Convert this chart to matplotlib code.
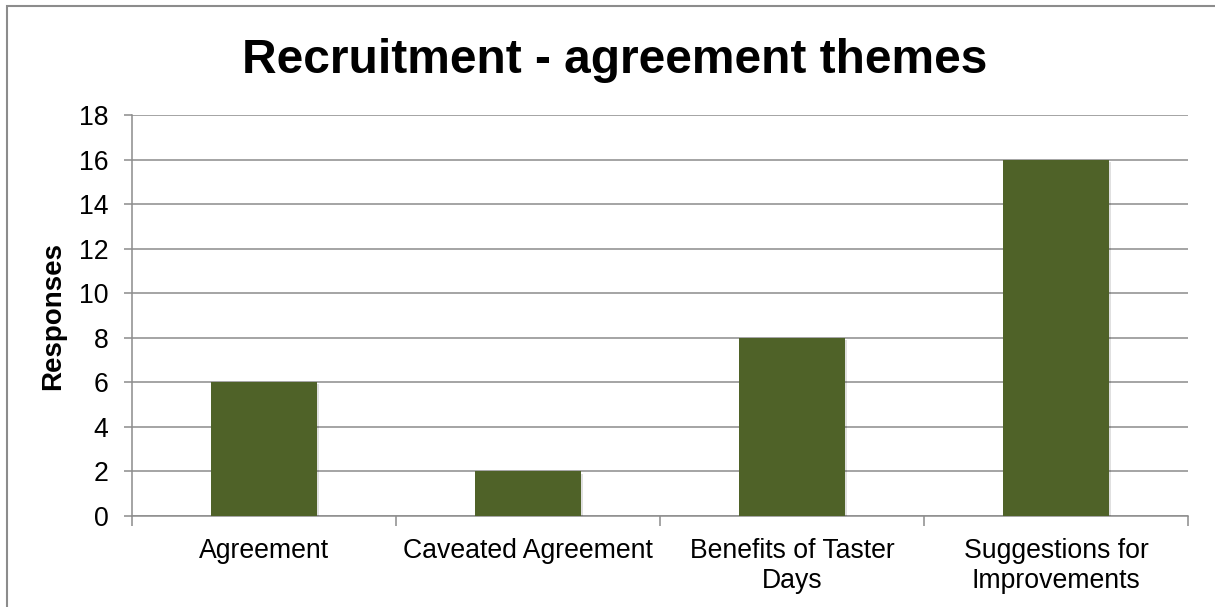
import numpy as np
import matplotlib.pyplot as plt
import matplotlib.patheffects as pe
from matplotlib.patches import Rectangle

plt.rcParams['font.family'] = ['Liberation Sans', 'DejaVu Sans']

# Data
categories = ['Agreement', 'Caveated Agreement', 'Benefits of Taster\nDays',
              'Suggestions for\nImprovements']
responses = [6, 2, 8, 16]
yticks = np.arange(0, 20, 2)

bar_color = '#4F6228'
grid_color = '#8C8C8C'

fig = plt.figure(figsize=(12.15, 6.07), dpi=100)
ax = fig.add_axes([0.1086, 0.1499, 0.8692, 0.6606])

x = np.arange(len(categories))
bars = ax.bar(x, responses, width=0.4, color=bar_color, zorder=3)
for b in bars:
    b.set_path_effects([pe.SimplePatchShadow(offset=(1.5, -1.5), shadow_rgbFace='k',
                                             alpha=0.12), pe.Normal()])

ax.set_xlim(-0.5, len(categories) - 0.5)
ax.set_ylim(0, 18)
ax.set_yticks(yticks)
ax.yaxis.grid(True, color=grid_color, linewidth=1.1, zorder=0)

ax.set_xticks(x)
ax.set_xticklabels(categories, fontsize=19.2, linespacing=1.2)
ax.set_xticks(np.arange(-0.5, len(categories)), minor=True)
ax.tick_params(axis='x', which='major', length=0, pad=16)
ax.tick_params(axis='x', which='minor', length=7, width=1.1, color=grid_color,
               direction='out')
ax.tick_params(axis='y', length=6, width=1.1, color=grid_color, pad=11,
               labelsize=19.2)

for side in ['top', 'right']:
    ax.spines[side].set_visible(False)
for side in ['left', 'bottom']:
    ax.spines[side].set_color(grid_color)
    ax.spines[side].set_linewidth(1.1)

ax.set_ylabel('Responses', fontsize=20, fontweight='bold', labelpad=9)
fig.text(0.506, 0.900, 'Recruitment - agreement themes', ha='center',
         va='center', fontsize=34.5, fontweight='bold')

# chart frame
fig.patches.append(Rectangle((7 / 1215, -0.1), 1.2, 1 - 6 / 607 + 0.1,
                             transform=fig.transFigure, fill=False,
                             edgecolor='#8C8C8C', linewidth=1.5))

plt.savefig('out.png', dpi=100)
